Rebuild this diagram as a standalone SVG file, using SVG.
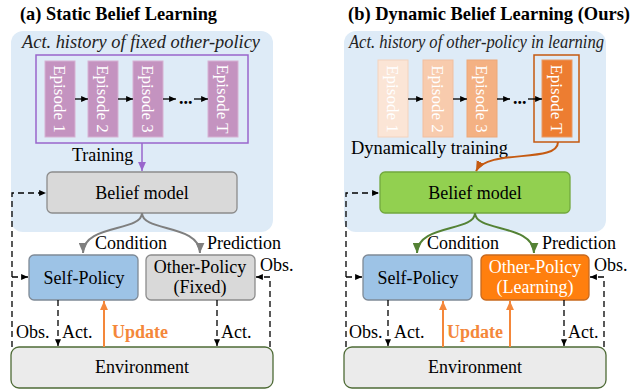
<svg xmlns="http://www.w3.org/2000/svg" width="642" height="389" viewBox="0 0 642 389">
<defs>
<style>
text{font-family:"Liberation Serif","Times New Roman",serif;fill:#000}
.title{font-size:19px;font-weight:bold}
.it{font-size:18px;font-style:italic;fill:#222}
.lbl{font-size:18px}
.ep{font-size:17px;fill:#fff}
.bg{fill:#DEEBF7}
.dash{fill:none;stroke:#000;stroke-width:1.3;stroke-dasharray:6,4}
.sm{fill:none;stroke:#000;stroke-width:1.3}
.upd{fill:none;stroke:#F4873A;stroke-width:2}
.env{fill:#EBEBEB;stroke:#4E6B36;stroke-width:1.3}
.self{fill:#9DC3E6;stroke:#7F8A96;stroke-width:1.3}
.grey{fill:#D9D9D9;stroke:#8C8C8C;stroke-width:1.3}
.upt{font-size:18px;font-weight:bold;fill:#F4873A}
</style>
<marker id="ab" viewBox="0 0 8 7" refX="8" refY="3.5" markerWidth="7" markerHeight="6" markerUnits="userSpaceOnUse" orient="auto"><path d="M0,0 L8,3.5 L0,7 z" fill="#000"/></marker>
<marker id="ao" viewBox="0 0 8 7" refX="8" refY="3.5" markerWidth="9" markerHeight="8" markerUnits="userSpaceOnUse" orient="auto"><path d="M0,0 L8,3.5 L0,7 z" fill="#F4873A"/></marker>
<marker id="ap" viewBox="0 0 8 7" refX="8" refY="3.5" markerWidth="9" markerHeight="8" markerUnits="userSpaceOnUse" orient="auto"><path d="M0,0 L8,3.5 L0,7 z" fill="#9966CC"/></marker>
<marker id="ag" viewBox="0 0 8 7" refX="8" refY="3.5" markerWidth="10" markerHeight="9" markerUnits="userSpaceOnUse" orient="auto"><path d="M0,0 L8,3.5 L0,7 z" fill="#7F7F7F"/></marker>
<marker id="agr" viewBox="0 0 8 7" refX="8" refY="3.5" markerWidth="10" markerHeight="9" markerUnits="userSpaceOnUse" orient="auto"><path d="M0,0 L8,3.5 L0,7 z" fill="#548235"/></marker>
<marker id="ad" viewBox="0 0 8 7" refX="8" refY="3.5" markerWidth="10" markerHeight="9" markerUnits="userSpaceOnUse" orient="auto"><path d="M0,0 L8,3.5 L0,7 z" fill="#C55A11"/></marker>
</defs>
<rect width="642" height="389" fill="#fff"/>

<!-- Panel (a) -->
<g id="panel-a">
<text class="title" x="20" y="20" textLength="197" lengthAdjust="spacingAndGlyphs">(a) Static Belief Learning</text>
<rect id="a-history-bg" class="bg" x="11" y="31" width="262" height="201" rx="12"/>
<text class="it" x="22" y="48" textLength="238" lengthAdjust="spacingAndGlyphs">Act. history of fixed other-policy</text>
<rect x="36" y="55" width="212" height="88" fill="none" stroke="#9966CC" stroke-width="1.5"/>
</g>
<g id="a-ep1"><rect x="45" y="61" width="30" height="76" fill="#C493C0" stroke="#D6B2D3"/><text class="ep" transform="translate(60,99) rotate(90)" text-anchor="middle" y="6">Episode 1</text></g>
<g id="a-ep2"><rect x="88" y="61" width="30" height="76" fill="#C493C0" stroke="#D6B2D3"/><text class="ep" transform="translate(103,99) rotate(90)" text-anchor="middle" y="6">Episode 2</text></g>
<g id="a-ep3"><rect x="133" y="61" width="30" height="76" fill="#C493C0" stroke="#D6B2D3"/><text class="ep" transform="translate(148,99) rotate(90)" text-anchor="middle" y="6">Episode 3</text></g>
<g id="a-epT"><rect x="208" y="61" width="30" height="76" fill="#C493C0" stroke="#D6B2D3"/><text class="ep" transform="translate(223,99) rotate(90)" text-anchor="middle" y="6">Episode T</text></g>
<text class="lbl" x="179" y="104" font-weight="bold" font-size="14">...</text>
<text class="lbl" x="72" y="161">Training</text>
<g id="a-belief"><rect class="grey" x="47" y="172" width="190" height="41" rx="5"/><text class="lbl" x="142" y="199" text-anchor="middle">Belief model</text></g>
<g id="a-self"><rect class="self" x="29" y="255" width="109" height="45" rx="5"/><text class="lbl" x="84" y="284" text-anchor="middle">Self-Policy</text></g>
<g id="a-other"><rect class="grey" x="146" y="255" width="109" height="45" rx="5"/><text class="lbl" x="200" y="273" text-anchor="middle">Other-Policy</text><text class="lbl" x="200" y="293" text-anchor="middle">(Fixed)</text></g>
<g id="a-env"><rect class="env" x="11" y="347" width="262" height="41" rx="8"/><text class="lbl" x="142" y="373" text-anchor="middle">Environment</text></g>
<text class="lbl" x="95" y="249">Condition</text>
<text class="lbl" x="207" y="249">Prediction</text>
<text class="lbl" x="260" y="271">Obs.</text>
<text class="lbl" x="16" y="338">Obs.</text>
<text class="lbl" x="62" y="338">Act.</text>
<text class="lbl" x="221" y="338">Act.</text>
<text class="upt" x="112" y="338">Update</text>

<!-- Panel (b) -->
<g id="panel-b">
<text class="title" x="348" y="20" textLength="282" lengthAdjust="spacingAndGlyphs">(b) Dynamic Belief Learning (Ours)</text>
<rect id="b-history-bg" class="bg" x="344" y="31" width="262" height="201" rx="12"/>
<text class="it" x="349" y="48" textLength="255" lengthAdjust="spacingAndGlyphs">Act. history of other-policy in learning</text>
<rect x="534" y="55" width="45" height="87" fill="none" stroke="#C55A11" stroke-width="1.5"/>
</g>
<g id="b-ep1"><rect x="378" y="60" width="30" height="77" fill="#FBE5D6" stroke="#F3D3BE"/><text class="ep" transform="translate(393,99) rotate(90)" text-anchor="middle" y="6">Episode 1</text></g>
<g id="b-ep2"><rect x="423" y="60" width="30" height="77" fill="#F8CBAD" stroke="#F1BFA0"/><text class="ep" transform="translate(438,99) rotate(90)" text-anchor="middle" y="6">Episode 2</text></g>
<g id="b-ep3"><rect x="467" y="60" width="30" height="77" fill="#F4B183" stroke="#EDA878"/><text class="ep" transform="translate(482,99) rotate(90)" text-anchor="middle" y="6">Episode 3</text></g>
<g id="b-epT"><rect x="542" y="60" width="30" height="77" fill="#ED7D31" stroke="#E89A66"/><text class="ep" transform="translate(557,99) rotate(90)" text-anchor="middle" y="6">Episode T</text></g>
<text class="lbl" x="513" y="104" font-weight="bold" font-size="14">...</text>
<text class="lbl" x="351" y="154" textLength="157" lengthAdjust="spacingAndGlyphs">Dynamically training</text>
<g id="b-belief"><rect x="380" y="172" width="190" height="41" rx="5" fill="#92D050" stroke="#72A83E" stroke-width="1.3"/><text class="lbl" x="475" y="199" text-anchor="middle">Belief model</text></g>
<g id="b-self"><rect class="self" x="363" y="255" width="109" height="45" rx="5"/><text class="lbl" x="418" y="284" text-anchor="middle">Self-Policy</text></g>
<g id="b-other"><rect x="481" y="255" width="108" height="45" rx="5" fill="#FF7F0E" stroke="#C8691E" stroke-width="1.3"/><text class="lbl" x="535" y="273" text-anchor="middle" style="fill:#fff">Other-Policy</text><text class="lbl" x="535" y="293" text-anchor="middle" style="fill:#fff">(Learning)</text></g>
<g id="b-env"><rect class="env" x="344" y="347" width="262" height="41" rx="8"/><text class="lbl" x="475" y="373" text-anchor="middle">Environment</text></g>
<text class="lbl" x="427" y="249">Condition</text>
<text class="lbl" x="542" y="249">Prediction</text>
<text class="lbl" x="594" y="271">Obs.</text>
<text class="lbl" x="349" y="338">Obs.</text>
<text class="lbl" x="394" y="338">Act.</text>
<text class="lbl" x="568" y="338">Act.</text>
<text class="upt" x="447" y="338">Update</text>

<!-- Connectors -->
<g id="connectors">
<path class="sm" d="M75,99 H88" marker-end="url(#ab)"/>
<path class="sm" d="M118,99 H133" marker-end="url(#ab)"/>
<path class="sm" d="M163,99 H176" marker-end="url(#ab)"/>
<path class="sm" d="M194,99 H208" marker-end="url(#ab)"/>
<path d="M142,143 V171" fill="none" stroke="#9966CC" stroke-width="1.5" marker-end="url(#ap)"/>
<path d="M142,213 C142,232 83,224 83,253" fill="none" stroke="#7F7F7F" stroke-width="2" marker-end="url(#ag)"/>
<path d="M142,213 C142,232 200,224 200,253" fill="none" stroke="#7F7F7F" stroke-width="2" marker-end="url(#ag)"/>
<path class="dash" d="M12,347 V193 H46" marker-end="url(#ab)"/>
<path class="dash" d="M12,277 H28" marker-end="url(#ab)"/>
<path class="dash" d="M58,300 V346" marker-end="url(#ab)"/>
<path class="dash" d="M217,300 V346" marker-end="url(#ab)"/>
<path class="dash" d="M270,347 V277 H256" marker-end="url(#ab)"/>
<path class="upd" d="M104,347 V301" marker-end="url(#ao)"/>

<path class="sm" d="M408,99 H423" marker-end="url(#ab)"/>
<path class="sm" d="M453,99 H467" marker-end="url(#ab)"/>
<path class="sm" d="M497,99 H510" marker-end="url(#ab)"/>
<path class="sm" d="M528,99 H542" marker-end="url(#ab)"/>
<path d="M558,142 C558,164 488,148 476,171" fill="none" stroke="#C55A11" stroke-width="2" marker-end="url(#ad)"/>
<path d="M475,213 C475,232 417,224 417,253" fill="none" stroke="#548235" stroke-width="2" marker-end="url(#agr)"/>
<path d="M475,213 C475,232 534,224 534,253" fill="none" stroke="#548235" stroke-width="2" marker-end="url(#agr)"/>
<path class="dash" d="M346,347 V193 H379" marker-end="url(#ab)"/>
<path class="dash" d="M346,277 H362" marker-end="url(#ab)"/>
<path class="dash" d="M388,300 V346" marker-end="url(#ab)"/>
<path class="dash" d="M564,300 V346" marker-end="url(#ab)"/>
<path class="dash" d="M604,347 V277 H590" marker-end="url(#ab)"/>
<path class="upd" d="M443,347 V301" marker-end="url(#ao)"/>
<path class="upd" d="M510,347 V301" marker-end="url(#ao)"/>
</g>
</svg>
